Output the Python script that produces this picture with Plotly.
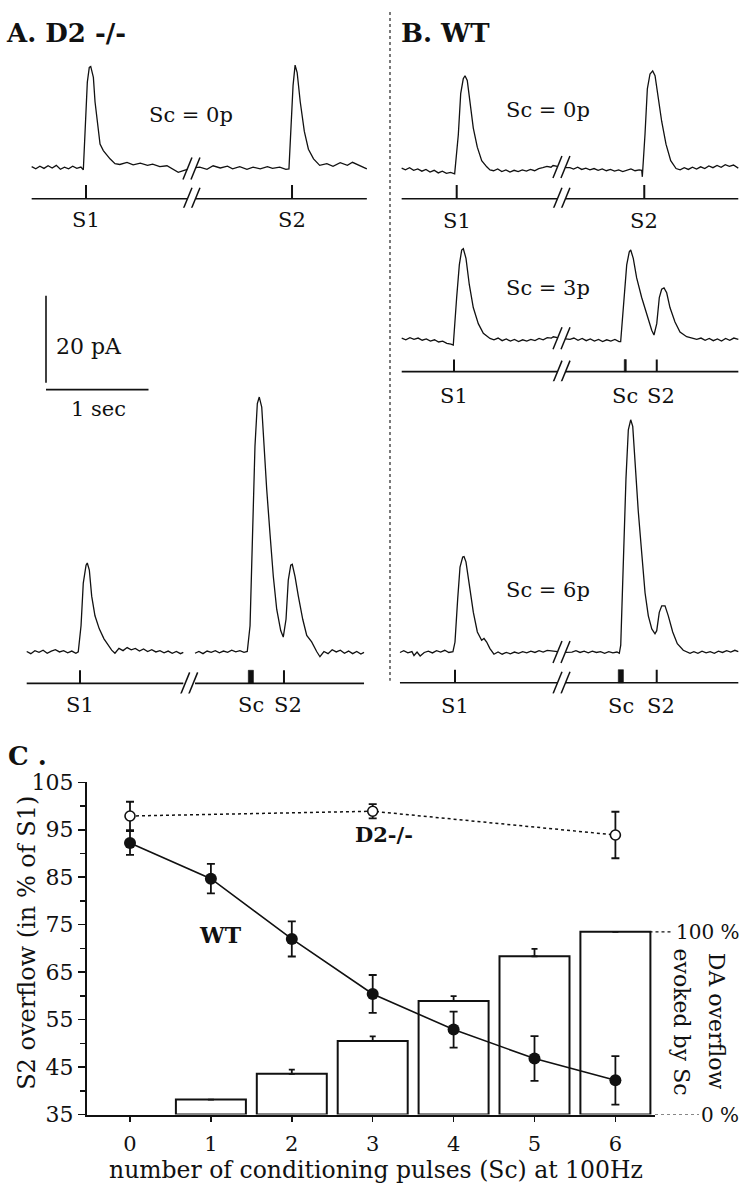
import plotly.graph_objects as go

W, H = 742, 1199
FONT = "DejaVu Serif"
INK = "#111111"
PX_PER_S = 102.5      # horizontal scale of the amperometric traces (1 sec bar)
PX_PER_PA = 4.45      # vertical scale of the traces (20 pA bar)

# ---------------- Panels A / B : traces (time s from S1, current pA above baseline)
A1_T = [-0.53, -0.49, -0.45, -0.41, -0.37, -0.33, -0.29, -0.25, -0.21, -0.17, -0.13, -0.09, -0.05, -0.026,
        0.013, 0.032, 0.046, 0.072, 0.088, 0.104, 0.137, 0.169, 0.20, 0.234, 0.283,
        0.33, 0.40, 0.46, 0.53, 0.60, 0.65, 0.72, 0.79, 0.85, 0.90, 0.95, 0.99,
        None,
        1.068, 1.11, 1.18, 1.24, 1.31, 1.38, 1.43, 1.50, 1.57, 1.63, 1.70, 1.77, 1.82, 1.89, 1.95, 1.98,
        2.02, 2.04, 2.06, 2.09, 2.13, 2.17, 2.22, 2.28,
        2.35, 2.41, 2.48, 2.55, 2.60, 2.67, 2.74]
A1_I = [0.3, -0.2, 0.4, -0.1, 0.5, 0.0, 0.6, -0.3, 0.2, -0.2, 0.4, -0.1, 0.2, -0.4,
        19.7, 23.1, 23.3, 20.8, 15.2, 11.5, 5.5, 4.0, 3.0, 2.1, 1.0,
        0.8, 1.3, 0.7, 1.1, 0.6, 0.9, 0.3, 0.5, -0.4, -1.0, -0.6, -0.3,
        None,
        0.1, 0.2, -0.3, 0.5, 0.0, 0.4, -0.2, 0.3, -0.3, 0.2, -0.2, 0.3, -0.1, 0.2, -0.3, -0.2,
        18.9, 23.6, 21.9, 15.2, 8.4, 4.3, 2.1, 0.6,
        1.0, 0.4, 1.2, 0.6, 1.3, 0.5, -0.2]

A2_T = [-0.52, -0.48, -0.44, -0.40, -0.36, -0.32, -0.28, -0.24, -0.20, -0.16, -0.12, -0.08, -0.04, -0.017,
        0.010, 0.032, 0.059, 0.071, 0.091, 0.114, 0.146, 0.188, 0.234, 0.276, 0.309, 0.341,
        0.38, 0.42, 0.46, 0.50, 0.54, 0.58, 0.62, 0.66, 0.70, 0.74, 0.78, 0.82, 0.86, 0.90, 0.94, 0.98, 1.008,
        None,
        1.122, 1.16, 1.20, 1.24, 1.28, 1.32, 1.36, 1.40, 1.44, 1.48, 1.52, 1.56, 1.60, 1.632,
        1.659, 1.685, 1.707, 1.730, 1.749, 1.773, 1.795, 1.821, 1.854, 1.886, 1.919, 1.958, 1.983,
        2.010, 2.032, 2.056, 2.071, 2.098, 2.130, 2.173, 2.212, 2.260, 2.309, 2.341,
        2.38, 2.42, 2.46, 2.50, 2.54, 2.58, 2.62, 2.66, 2.70, 2.74, 2.771]
A2_I = [0.2, -0.3, 0.4, 0.0, 0.5, -0.2, 0.3, 0.6, 0.1, 0.4, -0.1, 0.3, -0.2, 0.1,
        6.1, 15.9, 20.0, 20.5, 18.9, 12.9, 8.4, 5.4, 3.1, 1.6, 0.5, -0.2,
        0.9, 0.4, 1.1, 0.6, 0.9, 0.3, 0.8, 0.2, 0.6, 0.1, 0.4, -0.1, 0.3, -0.2, 0.2, -0.3, 0.0,
        None,
        -0.2, 0.2, -0.3, 0.3, 0.0, 0.4, -0.1, 0.3, 0.0, 0.5, 0.1, 0.4, 0.0, 0.2,
        6.1, 28.6, 47.3, 57.1, 58.6, 56.3, 47.3, 37.6, 27.1, 17.4, 9.9, 5.0, 3.5,
        7.6, 16.6, 20.0, 20.2, 17.4, 12.9, 7.6, 3.9, 2.4, 0.2, -1.0,
        0.2, -0.3, 0.6, 0.1, 0.5, -0.2, 0.3, -0.3, 0.2, -0.4, 0.0]

B1_T = [-0.537, -0.50, -0.46, -0.42, -0.38, -0.34, -0.30, -0.26, -0.22, -0.18, -0.14, -0.10, -0.06, -0.02,
        0.016, 0.039, 0.064, 0.081, 0.103, 0.130, 0.162, 0.201, 0.244, 0.293, 0.325,
        0.36, 0.40, 0.44, 0.48, 0.52, 0.56, 0.60, 0.64, 0.68, 0.72, 0.76, 0.80, 0.84, 0.88, 0.92, 0.94, 0.983,
        None,
        1.061, 1.105, 1.14, 1.18, 1.22, 1.26, 1.30, 1.34, 1.38, 1.42, 1.46, 1.50, 1.54, 1.58, 1.62, 1.66, 1.70,
        1.74, 1.78, 1.805, 1.811,
        1.837, 1.860, 1.886, 1.912, 1.935, 1.967, 2.000, 2.042, 2.088, 2.140,
        2.18, 2.22, 2.26, 2.30, 2.34, 2.38, 2.42, 2.46, 2.50, 2.54, 2.58, 2.62, 2.66, 2.70, 2.747]
B1_I = [0.8, 0.4, 0.9, 0.3, 0.6, 0.1, 0.5, -0.1, 0.3, -0.3, 0.1, -0.4, -0.2, -0.5,
        8.5, 17.9, 21.3, 22.0, 20.9, 16.0, 10.0, 5.6, 2.5, 1.1, 0.4,
        0.2, 0.6, 0.0, 0.4, -0.1, 0.3, 0.0, 0.4, 0.1, 0.5, 0.2, 0.7, 0.9, 1.2, 1.0, 1.4, 1.2,
        None,
        0.9, 0.9, 0.6, 1.0, 0.5, 0.8, 0.4, 0.7, 0.3, 0.6, 0.2, 0.5, 0.1, 0.4, 0.0, 0.3, 0.6,
        0.2, 0.4, 0.3, -1.2,
        8.5, 19.0, 22.4, 23.1, 22.0, 16.8, 11.5, 6.3, 2.5, 0.7,
        0.4, 0.9, 0.5, 1.0, 0.6, 1.1, 0.7, 1.3, 0.9, 1.4, 1.0, 1.6, 1.2, 1.5, 0.8]

B2_T = [-0.51, -0.47, -0.43, -0.39, -0.35, -0.31, -0.27, -0.23, -0.19, -0.15, -0.11, -0.07, -0.03, -0.007,
        0.026, 0.052, 0.075, 0.091, 0.117, 0.149, 0.188, 0.237, 0.286, 0.351,
        0.39, 0.43, 0.47, 0.51, 0.55, 0.59, 0.63, 0.67, 0.71, 0.75, 0.79, 0.83, 0.87, 0.91, 0.95, 0.969, 1.010,
        None,
        1.088, 1.132, 1.17, 1.21, 1.25, 1.29, 1.33, 1.37, 1.41, 1.45, 1.49, 1.53, 1.57, 1.61, 1.626,
        1.652, 1.685, 1.710, 1.724, 1.749, 1.782, 1.831, 1.880, 1.929, 1.951,
        1.978, 2.003, 2.026, 2.049, 2.075, 2.107, 2.156, 2.205, 2.270, 2.368,
        2.41, 2.45, 2.49, 2.53, 2.57, 2.61, 2.65, 2.69, 2.73, 2.774]
B2_I = [0.9, 0.5, 1.0, 0.6, 0.9, 0.4, 0.7, 0.2, 0.5, 0.0, 0.2, -0.3, -0.5, -0.7,
        10.2, 17.7, 21.1, 21.4, 19.2, 13.2, 7.9, 4.2, 2.0, 0.8,
        0.5, 0.9, 0.3, 0.7, 0.2, 0.6, 0.1, 0.5, 0.2, 0.6, 0.3, 0.8, 0.5, 1.0, 0.9, 1.2, 1.0,
        None,
        0.7, 0.6, 0.9, 0.4, 0.8, 0.3, 0.7, 0.2, 0.6, 0.1, 0.5, 0.2, 0.6, 0.1, 0.1,
        8.7, 17.7, 20.7, 21.1, 19.2, 14.7, 10.2, 6.4, 2.7, 1.6,
        4.2, 10.2, 12.1, 12.4, 11.3, 7.9, 4.6, 2.3, 1.2, 0.6,
        0.9, 0.4, 0.8, 0.3, 0.7, 0.2, 0.8, 0.4, 0.9, 0.6]

B3_T = [-0.537, -0.50, -0.46, -0.42, -0.40, -0.37, -0.34, -0.30, -0.26, -0.22, -0.18, -0.14, -0.10, -0.06, -0.02,
        0.0, 0.026, 0.049, 0.075, 0.088, 0.107, 0.140, 0.179, 0.218, 0.260, 0.283, 0.309, 0.341, 0.380,
        0.42, 0.46, 0.50, 0.54, 0.58, 0.62, 0.66, 0.70, 0.74, 0.78, 0.82, 0.86, 0.90, 0.956, 1.0,
        None,
        1.078, 1.141, 1.18, 1.22, 1.26, 1.30, 1.34, 1.38, 1.42, 1.46, 1.50, 1.54, 1.58, 1.603,
        1.617, 1.642, 1.668, 1.691, 1.714, 1.734, 1.756, 1.788, 1.822, 1.854, 1.886, 1.920, 1.951, 1.968,
        1.993, 2.017, 2.049, 2.081, 2.124, 2.169, 2.227, 2.293,
        2.33, 2.37, 2.41, 2.45, 2.49, 2.53, 2.57, 2.61, 2.65, 2.69, 2.73, 2.764]
B3_I = [0.2, 0.6, 0.1, 0.4, -0.5, 0.3, -0.6, 0.2, 0.5, 0.1, 0.6, 0.3, 0.7, 0.2, 0.4,
        2.6, 12.4, 19.8, 22.1, 22.2, 21.0, 15.3, 9.4, 4.9, 3.0, 3.4, 2.6, 1.1, -0.2,
        0.3, -0.2, 0.2, -0.1, 0.3, 0.0, 0.4, 0.1, 0.5, 0.2, 0.6, 0.3, 0.7, 0.5, 0.4,
        None,
        0.2, 0.3, 0.6, 0.2, 0.5, 0.1, 0.5, 0.2, 0.4, 0.0, 0.4, 0.1, 0.3, 0.0,
        1.9, 21.3, 40.1, 51.3, 53.6, 52.1, 43.8, 32.6, 22.9, 13.9, 8.6, 5.6, 4.5, 5.2,
        9.4, 10.9, 10.9, 8.6, 4.9, 2.2, 0.7, 0.0,
        0.4, 0.0, 0.5, 0.1, 0.4, 0.0, 0.5, 0.2, 0.6, 0.3, 0.7, 0.4]

# stimuli (s from S1)
A1_STIM_NAMES = ["S1", "S2"];        A1_STIM_T = [0.0, 2.01]
A2_STIM_NAMES = ["S1", "Sc", "S2"];  A2_STIM_T = [0.0, 1.642, 1.99];  A2_SC_PULSES = 6
B1_STIM_NAMES = ["S1", "S2"];        B1_STIM_T = [0.0, 1.83]
B2_STIM_NAMES = ["S1", "Sc", "S2"];  B2_STIM_T = [0.0, 1.661, 1.978]; B2_SC_PULSES = 3
B3_STIM_NAMES = ["S1", "Sc", "S2"];  B3_STIM_T = [0.0, 1.593, 1.968]; B3_SC_PULSES = 6
SC_FREQ_HZ = 100
SCALE_PA = 20
SCALE_SEC = 1

# ---------------- Panel C
SC_N = [0, 1, 2, 3, 4, 5, 6]
WT_MEAN = [92.2, 84.7, 72.0, 60.4, 52.9, 46.8, 42.2]
WT_SEM = [2.5, 3.1, 3.7, 4.0, 3.8, 4.7, 5.1]
D2_N = [0, 3, 6]
D2_MEAN = [97.9, 98.9, 93.9]
D2_SEM = [3.0, 1.5, 4.9]
BAR_N = [1, 2, 3, 4, 5, 6]
BAR_PCT = [8.2, 22.3, 40.3, 62.1, 86.6, 100.0]
BAR_ERR = [0.0, 2.3, 2.5, 2.7, 4.1, 0.0]
C_YRANGE = [35, 105]
C_YTICKS = [35, 45, 55, 65, 75, 85, 95, 105]
FULL_SCALE_LEVEL = 73.5   # left-axis level that corresponds to 100 %

# ======================================================================
fig = go.Figure()
layout = {}
annotations = []
shapes = []


def ann(text, x, y, size, xanchor="center", yanchor="middle", angle=0, **kw):
    annotations.append(dict(text=text, x=x / W, y=1 - y / H, xref="paper", yref="paper",
                            showarrow=False, xanchor=xanchor, yanchor=yanchor, textangle=angle,
                            borderpad=0, font=dict(family=FONT, size=size, color=INK), **kw))


def make_axes(idx, box, origin, sx, sy):
    left, top, right, bottom = box
    ox, oy = origin
    layout[f"xaxis{idx}"] = dict(domain=[left / W, right / W],
                                 range=[(left - ox) / sx, (right - ox) / sx],
                                 visible=False, fixedrange=True, anchor=f"y{idx}")
    layout[f"yaxis{idx}"] = dict(domain=[1 - bottom / H, 1 - top / H],
                                 range=[(oy - bottom) / sy, (oy - top) / sy],
                                 visible=False, fixedrange=True, anchor=f"x{idx}")


def slashes(idx, xmid, ymid):
    for dx in (-4, 4):
        shapes.append(dict(type="line", xref=f"x{idx}", yref=f"y{idx}",
                           xsizemode="pixel", ysizemode="pixel", xanchor=xmid, yanchor=ymid,
                           x0=dx - 4.5, x1=dx + 4.5, y0=-11, y1=11,
                           line=dict(color=INK, width=1.5)))


ROWS = [
    dict(T=A1_T, I=A1_I, names=A1_STIM_NAMES, st=A1_STIM_T, pulses=0, tr=3, sr=4,
         tbox=(20, 40, 380, 176), torg=(86, 159.3), sbox=(20, 168, 380, 200), sorg=(86, 190.7), stk=14,
         lab_dy=21, trace_slash=True, sc_text="Sc = 0p", sc_pos=(190.8, 105)),
    dict(T=A2_T, I=A2_I, names=A2_STIM_NAMES, st=A2_STIM_T, pulses=A2_SC_PULSES, tr=5, sr=6,
         tbox=(15, 375, 380, 668), torg=(80, 654), sbox=(15, 664, 380, 696), sorg=(80, 685.7), stk=13.4,
         lab_dy=22, trace_slash=False, sc_text=None, sc_pos=None),
    dict(T=B1_T, I=B1_I, names=B1_STIM_NAMES, st=B1_STIM_T, pulses=0, tr=7, sr=8,
         tbox=(395, 40, 742, 176), torg=(456.7, 163), sbox=(395, 168, 742, 200), sorg=(456.7, 190.7), stk=14,
         lab_dy=22, trace_slash=True, sc_text="Sc = 0p", sc_pos=(547.5, 100)),
    dict(T=B2_T, I=B2_I, names=B2_STIM_NAMES, st=B2_STIM_T, pulses=B2_SC_PULSES, tr=9, sr=10,
         tbox=(395, 222, 742, 352), torg=(454, 337), sbox=(395, 348, 742, 377), sorg=(454, 367.3), stk=12.3,
         lab_dy=24, trace_slash=True, sc_text="Sc = 3p", sc_pos=(547.5, 281.7)),
    dict(T=B3_T, I=B3_I, names=B3_STIM_NAMES, st=B3_STIM_T, pulses=B3_SC_PULSES, tr=11, sr=12,
         tbox=(395, 392, 742, 668), torg=(455, 655), sbox=(395, 664, 742, 696), sorg=(455, 685), stk=13.3,
         lab_dy=23, trace_slash=True, sc_text="Sc = 6p", sc_pos=(547.5, 590)),
]

for r in ROWS:
    make_axes(r["tr"], r["tbox"], r["torg"], PX_PER_S, PX_PER_PA)
    make_axes(r["sr"], r["sbox"], r["sorg"], PX_PER_S, r["stk"])
    T, I = r["T"], r["I"]
    fig.add_trace(go.Scatter(x=T, y=I, mode="lines", line=dict(color=INK, width=1.3),
                             xaxis=f"x{r['tr']}", yaxis=f"y{r['tr']}", hoverinfo="skip"))
    k = T.index(None)
    ga, gb = T[k - 1], T[k + 1]
    gmid = (ga + gb) / 2
    if r["trace_slash"]:
        slashes(r["tr"], gmid, (I[k - 1] + I[k + 1]) / 2)
    # stimulus line
    fig.add_trace(go.Scatter(x=[T[0], ga, None, gb, T[-1]], y=[0, 0, None, 0, 0], mode="lines",
                             line=dict(color=INK, width=1.6), xaxis=f"x{r['sr']}", yaxis=f"y{r['sr']}",
                             hoverinfo="skip"))
    slashes(r["sr"], gmid, 0)
    has_sc = "Sc" in r["names"]
    for name, t in zip(r["names"], r["st"]):
        if name == "Sc":
            dur = (r["pulses"] - 1) / SC_FREQ_HZ
            fig.add_trace(go.Scatter(x=[t, t + dur, t + dur, t, t], y=[0, 0, 1, 1, 0], mode="lines",
                                     fill="toself", fillcolor=INK, line=dict(color=INK, width=0.6),
                                     xaxis=f"x{r['sr']}", yaxis=f"y{r['sr']}", hoverinfo="skip"))
            tx = t + dur / 2
            xs = 0
        else:
            fig.add_trace(go.Scatter(x=[t, t], y=[0, 1], mode="lines", line=dict(color=INK, width=2),
                                     xaxis=f"x{r['sr']}", yaxis=f"y{r['sr']}", hoverinfo="skip"))
            tx = t
            xs = 4 if (name == "S2" and has_sc) else 0
        annotations.append(dict(text=name, x=tx, y=0, xref=f"x{r['sr']}", yref=f"y{r['sr']}",
                                showarrow=False, xanchor="center", yanchor="middle",
                                xshift=xs, yshift=-r["lab_dy"], borderpad=0,
                                font=dict(family=FONT, size=21, color=INK)))
    if r["sc_text"]:
        ann(r["sc_text"], r["sc_pos"][0], r["sc_pos"][1], 21)

# scale bar (own axes, same scale as traces)
SB_GAP_PX = 7
make_axes(13, (35, 280, 165, 395), (46, 385.7), PX_PER_S, PX_PER_PA)
gap = SB_GAP_PX / PX_PER_PA
fig.add_trace(go.Scatter(x=[0, 0, None, 0, SCALE_SEC], y=[gap + SCALE_PA, gap, None, 0, 0], mode="lines",
                         line=dict(color=INK, width=1.6), xaxis="x13", yaxis="y13", hoverinfo="skip"))
ann(f"{SCALE_PA} pA", 55, 341.7, 22, xanchor="left")
ann(f"{SCALE_SEC} sec", 98.5, 405, 21)

# panel titles + divider
ann("<b>A. D2 -/-</b>", 5, 21, 26, xanchor="left")
ann("<b>B. WT</b>", 400, 21, 26, xanchor="left")
ann("<b>C .</b>", 7, 760, 26, xanchor="left")
shapes.append(dict(type="line", xref="paper", yref="paper", x0=390 / W, x1=390 / W, y0=1, y1=1 - 683 / H,
                   line=dict(color="#333333", width=1.3, dash="dot")))

# ---------------- Panel C
C_LEFT, C_RIGHT, C_TOP, C_BOTTOM = 87, 655, 786.7, 1126
X0_PX, DX_PX = 130, 80.9
bar_top = 100 * (C_YRANGE[1] - C_YRANGE[0]) / (FULL_SCALE_LEVEL - C_YRANGE[0])

fig.add_trace(go.Bar(x=BAR_N, y=BAR_PCT, width=70 / DX_PX,
                     marker=dict(color="white", line=dict(color=INK, width=2)),
                     error_y=dict(type="data", array=BAR_ERR, arrayminus=[0] * len(BAR_ERR), symmetric=False,
                                  color=INK, thickness=1.8, width=3),
                     xaxis="x", yaxis="y", hoverinfo="skip"))
fig.add_trace(go.Scatter(x=D2_N, y=D2_MEAN, mode="lines+markers",
                         line=dict(color=INK, width=1.5, dash="dot"),
                         marker=dict(size=10, color="white", line=dict(color=INK, width=1.6)),
                         error_y=dict(type="data", array=D2_SEM, color=INK, thickness=1.8, width=4),
                         xaxis="x", yaxis="y2", hoverinfo="skip"))
fig.add_trace(go.Scatter(x=SC_N, y=WT_MEAN, mode="lines+markers",
                         line=dict(color=INK, width=1.6),
                         marker=dict(size=12, color=INK),
                         error_y=dict(type="data", array=WT_SEM, color=INK, thickness=1.8, width=4),
                         xaxis="x", yaxis="y2", hoverinfo="skip"))

tickfont = dict(family=FONT, size=21, color=INK)
layout["xaxis"] = dict(domain=[C_LEFT / W, C_RIGHT / W],
                       range=[(C_LEFT - X0_PX) / DX_PX, (C_RIGHT - X0_PX) / DX_PX],
                       anchor="y", tickmode="array", tickvals=SC_N, ticks="outside", ticklen=5, tickwidth=1.5,
                       tickcolor=INK, showline=True, linewidth=2, linecolor=INK, showgrid=False, zeroline=False,
                       tickfont=tickfont, ticklabelstandoff=4, fixedrange=True)
layout["yaxis"] = dict(domain=[1 - C_BOTTOM / H, 1 - C_TOP / H], range=[0, bar_top], visible=False,
                       fixedrange=True)
layout["yaxis2"] = dict(overlaying="y", anchor="x", side="left", range=C_YRANGE,
                        tickmode="array", tickvals=C_YTICKS, ticks="outside", ticklen=7, tickwidth=1.5,
                        tickcolor=INK,
                        minor=dict(dtick=5, tick0=35, ticks="outside", ticklen=5, tickwidth=1.5, tickcolor=INK),
                        showline=True, linewidth=2, linecolor=INK, showgrid=False, zeroline=False,
                        tickfont=dict(family=FONT, size=22, color=INK), fixedrange=True)

# right-hand 0 % / 100 % guides
shapes.append(dict(type="line", xref="paper", yref="y", x0=649.5 / W, x1=673 / W, y0=100, y1=100,
                   line=dict(color=INK, width=1.3, dash="dot")))
shapes.append(dict(type="line", xref="paper", yref="y", x0=655 / W, x1=699 / W, y0=0, y1=0,
                   line=dict(color=INK, width=1.3, dash="dot")))
ann("100 %", 675, 939.3, 20, xanchor="left")
ann("0 %", 700, 1126, 20, xanchor="left")
ann("DA overflow", 716.7, 1031, 22, angle=90)
ann("evoked by Sc", 681, 1031, 22, angle=90)

ann("S2 overflow (in % of S1)", 26.7, 951, 24, angle=-90)
ann("number of conditioning pulses (Sc) at 100Hz", 376, 1183, 23.5)
ann("<b>WT</b>", 221, 943, 22)
ann("<b>D2-/-</b>", 384, 840, 21)

layout.update(dict(width=W, height=H, autosize=False, margin=dict(l=0, r=0, t=0, b=0),
                   paper_bgcolor="white", plot_bgcolor="rgba(0,0,0,0)", showlegend=False,
                   annotations=annotations, shapes=shapes, bargap=0))
fig.update_layout(**layout)

fig.write_html("out.html", config={"displayModeBar": False, "staticPlot": True},
               post_script="document.body.style.margin='0';document.body.style.overflow='hidden';")
